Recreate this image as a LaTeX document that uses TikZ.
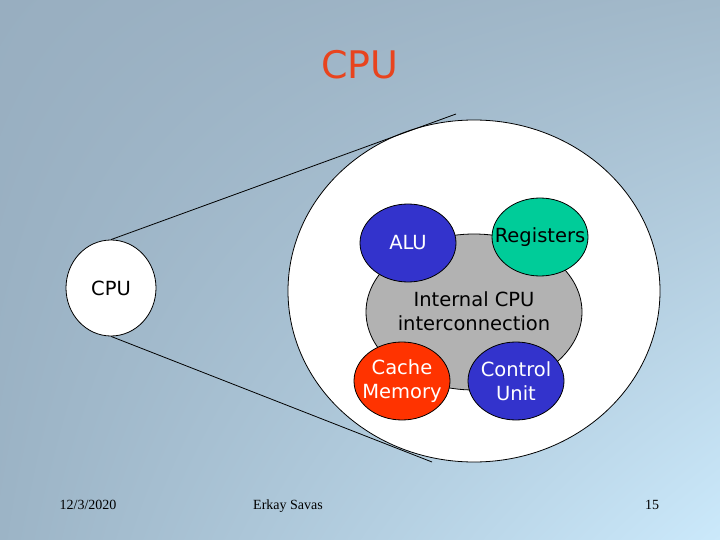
\documentclass[tikz,border=0pt]{standalone}
\usepackage{fontspec}
\setmainfont{Liberation Serif}
\newfontfamily\slidefont{DejaVu Sans}
\usetikzlibrary{shapes.geometric,shadings,positioning}

\definecolor{bgtopleft}{HTML}{98AEC0}
\definecolor{bgtopright}{HTML}{A2B9CA}
\definecolor{bgbotleft}{HTML}{9CB4C6}
\definecolor{bgbotright}{HTML}{CBE9FB}
\definecolor{titlered}{HTML}{E8441E}
\definecolor{unitblue}{HTML}{3333CC}
\definecolor{unitgreen}{HTML}{00CC99}
\definecolor{unitred}{HTML}{FF3300}
\definecolor{busgray}{HTML}{B2B2B2}

\begin{document}
\begin{tikzpicture}[x=1pt,y=-1pt]
    \tikzstyle{every path}=[line width=0.8pt]
    \tikzstyle{blob}=[ellipse,draw,inner sep=0pt,align=center]
    \tikzstyle{unit}=[blob,inner xsep=-14pt,minimum width=96pt,minimum height=78pt,
                      font=\slidefont\fontsize{19.5}{24}\selectfont]
    \tikzstyle{footer}=[anchor=base,font=\fontsize{14}{16}\selectfont]

    % slide background
    \shade[upper left=bgtopleft,upper right=bgtopright,
           lower left=bgbotleft,lower right=bgbotright]
      (0,0) rectangle (720,540);
    \useasboundingbox (0,0) rectangle (720,540);

    \node[text=titlered,font=\slidefont\fontsize{38}{44}\selectfont] (title) at (360,65) {CPU};

    % zoomed CPU
    \node[blob,fill=white,minimum width=372pt,minimum height=342pt] (zoom) at (474,291) {};
    \node[blob,fill=busgray,minimum width=216pt,minimum height=156pt] (bus) at (474,312) {};
    \node[font=\slidefont\fontsize{19.5}{24}\selectfont,align=center] (buslabel) at (474,311)
      {Internal CPU\\interconnection};

    \node[unit,fill=unitblue,text=white] (alu) at (408,243) {ALU};
    \node[unit,fill=unitgreen]            (reg) at (540,237) {Registers};
    \node[unit,fill=unitred,text=white]  (cache) at (402,381) {Cache\\Memory};
    \node[unit,fill=unitblue,text=white] (ctrl) at (516,381) {Control\\Unit};

    % small CPU and the zoom lines
    \node[blob,fill=white,minimum width=90pt,minimum height=96pt,
          font=\slidefont\fontsize{19.5}{22}\selectfont] (cpu) at (111,288) {CPU};
    \coordinate (zoomtop) at (456,114);
    \coordinate (zoombot) at (432,462);
    \draw (cpu.north) -- (zoomtop);
    \draw (cpu.south) -- (zoombot);

    \node[footer] (date)   at (88,509)  {12/3/2020};
    \node[footer] (author) at (288,509) {Erkay Savas};
    \node[footer] (page)   at (652,509) {15};
\end{tikzpicture}
\end{document}
